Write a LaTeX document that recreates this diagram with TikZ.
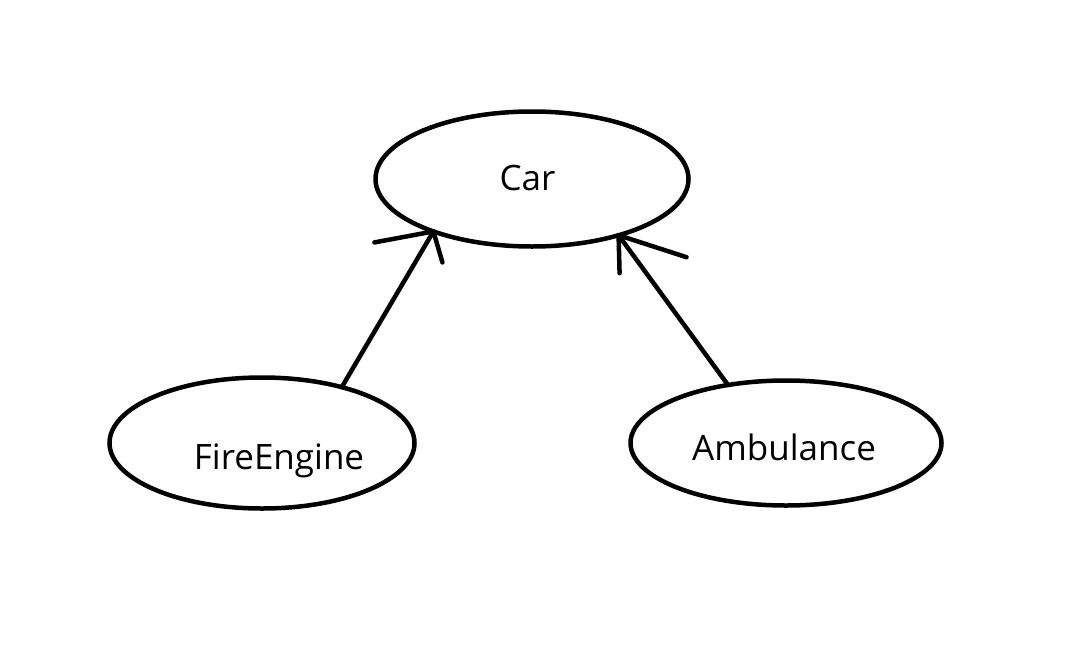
\documentclass[tikz,border=0pt]{standalone}
\usepackage{fontspec}
\setmainfont{Open Sans}
\usetikzlibrary{shapes.geometric}
\begin{document}
\begin{tikzpicture}[x=1pt,y=-1pt,
  ell/.style={ellipse,draw,line width=4.5pt,inner sep=0pt,outer sep=0pt},
  txt/.style={font=\fontsize{35}{40}\selectfont,inner sep=0pt,anchor=base},
  conn/.style={line width=4.5pt,line cap=round}]
\useasboundingbox (0,0) rectangle (1089,664);
\node[ell,minimum width=313pt,minimum height=135pt] (car) at (532,179) {};
\node[ell,minimum width=305pt,minimum height=131pt] (fe) at (262,443) {};
\node[ell,minimum width=311pt,minimum height=125pt] (amb) at (786,443) {};
\node[txt] (cart) at (527.5,190) {Car};
\node[txt] (fet) at (279,469) {FireEngine};
\node[txt] (ambt) at (784,460) {Ambulance};
\draw[conn] (fe.35.6) -- (car.208);
\draw[conn] (car.208) -- ++(-59,11);
\draw[conn] (car.208) -- ++(9,31);
\draw[conn] (amb.135) -- (car.327);
\draw[conn] (car.327) -- ++(1,38);
\draw[conn] (car.327) -- ++(68,22);
\end{tikzpicture}
\end{document}
